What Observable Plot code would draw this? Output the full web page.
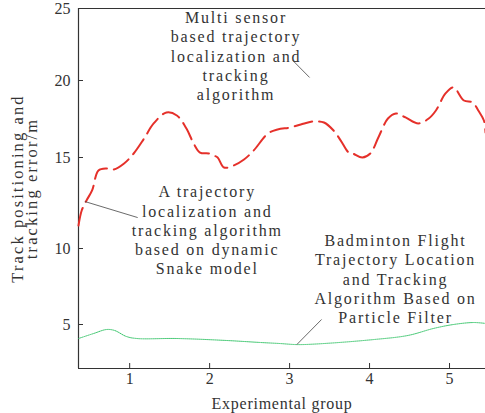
<!DOCTYPE html>
<html><head><meta charset="utf-8">
<script src="https://cdn.jsdelivr.net/npm/d3@7"></script>
<script src="https://cdn.jsdelivr.net/npm/@observablehq/plot@0.6"></script>
<style>
body{margin:0;background:#fff}
#chart svg{display:block}
</style>
</head><body><div id="chart"></div>
<script>
// Multi sensor based trajectory localization and tracking algorithm (red dashed)
const multiX = [0.36,0.40,0.46,0.53,0.61,0.71,0.80,0.93,1.05,1.18,1.30,1.46,1.59,1.71,1.80,1.88,1.99,2.05,2.10,2.18,2.30,2.43,2.55,2.73,2.85,3.01,3.14,3.30,3.43,3.55,3.64,3.74,3.79,3.91,4.01,4.11,4.23,4.33,4.45,4.61,4.74,4.83,4.95,5.05,5.18,5.29,5.36,5.43,5.45];
const multiY = [11.26,12.09,12.64,13.19,14.29,14.40,14.34,14.67,15.26,16.23,17.21,17.92,17.73,16.88,15.91,15.32,15.26,15.13,15.0,14.45,14.56,14.89,15.45,16.56,16.82,16.95,17.14,17.34,17.27,16.75,16.10,15.32,15.26,15.0,15.26,16.30,17.53,17.86,17.60,17.21,17.53,18.05,19.16,19.55,18.70,18.57,18.05,17.40,16.62];
// Badminton flight trajectory ... based on particle filter (green dotted)
const particleX = [0.36,0.55,0.71,0.81,0.96,1.09,1.59,2.21,2.63,2.88,3.10,3.43,4.05,4.48,4.80,5.05,5.30,5.45];
const particleY = [4.08,4.41,4.67,4.61,4.21,4.08,4.08,3.95,3.82,3.75,3.68,3.75,4.01,4.28,4.74,5.0,5.13,5.07];

const xTicks = [1, 2, 3, 4, 5];
const yTicks = [5, 10, 15, 20, 25];
const xDomain = [0.36, 5.45];
const yDomain = [2.11, 5, 10, 15, 20, 25];

const noteText = [
  "Multi sensor\nbased trajectory\nlocalization and\ntracking\nalgorithm",
  "A trajectory\nlocalization and\ntracking algorithm\nbased on dynamic\nSnake model",
  "Badminton Flight\nTrajectory Location\nand Tracking\nAlgorithm Based on\nParticle Filter"
];
const noteX = [2.33, 1.97, 4.325];
const noteY = [21.74, 11.04, 8.03];
const leaderX1 = [3.04, 0.44, 3.40];
const leaderY1 = [21.39, 12.58, 5.33];
const leaderX2 = [3.25, 1.10, 3.09];
const leaderY2 = [20.21, 11.70, 3.68];

const xLabel = "Experimental group";
const yLabel = "Track positioning and\ntracking error/m";

const multi = multiX.map((x, i) => ({x, y: multiY[i]}));
const particle = particleX.map((x, i) => ({x, y: particleY[i]}));
const notes = noteText.map((t, i) => ({t, x: noteX[i], y: noteY[i]}));
const leaders = leaderX1.map((x1, i) => ({x1, y1: leaderY1[i], x2: leaderX2[i], y2: leaderY2[i]}));

const ink = "#333";
const chart = Plot.plot({
  width: 485, height: 413,
  marginLeft: 78, marginRight: 0, marginTop: 8, marginBottom: 45,
  style: {fontFamily: "Liberation Serif, serif", fontSize: "16px", color: ink, background: "#fff", overflow: "visible"},
  x: {domain: xDomain, range: [78, 485]},
  y: {type: "linear", domain: yDomain, range: [368, 324, 248, 157, 80, 8]},
  marks: [
    Plot.ruleY([yDomain[yDomain.length - 1]], {stroke: ink, strokeWidth: 1}),
    Plot.ruleY([yDomain[0]], {stroke: ink, strokeWidth: 1.2}),
    Plot.ruleX([xDomain[0]], {stroke: ink, strokeWidth: 1.2}),
    Plot.axisX(xTicks, {anchor: "bottom", tickSize: -5, tickPadding: 9, label: null, stroke: ink, fill: ink, fontSize: 16}),
    Plot.axisY(yTicks, {anchor: "left", tickSize: -5, tickPadding: 13, label: null, stroke: ink, fill: ink, fontSize: 16}),
    Plot.line(particle, {x: "x", y: "y", stroke: "#35c468", strokeWidth: 1, strokeDasharray: "1,1", curve: "catmull-rom"}),
    Plot.line(multi, {x: "x", y: "y", stroke: "#e5302a", strokeWidth: 2, strokeDasharray: "18,7", curve: "catmull-rom"}),
    Plot.link(leaders, {x1: "x1", y1: "y1", x2: "x2", y2: "y2", stroke: "#444", strokeWidth: 0.8}),
    Plot.text(notes, {x: "x", y: "y", text: "t", textAnchor: "middle", lineAnchor: "middle", lineHeight: 1.2, fill: ink, fontSize: 16}),
    Plot.text([xLabel], {frameAnchor: "bottom", textAnchor: "middle", dy: 35, lineAnchor: "middle", fill: ink, fontSize: 16}),
    Plot.text([yLabel], {frameAnchor: "left", textAnchor: "middle", dx: -53, rotate: -90, lineAnchor: "middle", lineHeight: 0.85, fill: ink, fontSize: 16.5})
  ]
});
document.getElementById("chart").appendChild(chart);
// per-mark letter spacing to mimic the monospaced original
const textGroups = d3.select(chart).selectAll('g[aria-label="text"]').nodes();
const spacing = ["1.8px", "0.75px", "2.1px"];
textGroups.forEach((g, i) => { if (spacing[i]) g.style.letterSpacing = spacing[i]; });
</script>
</body></html>
